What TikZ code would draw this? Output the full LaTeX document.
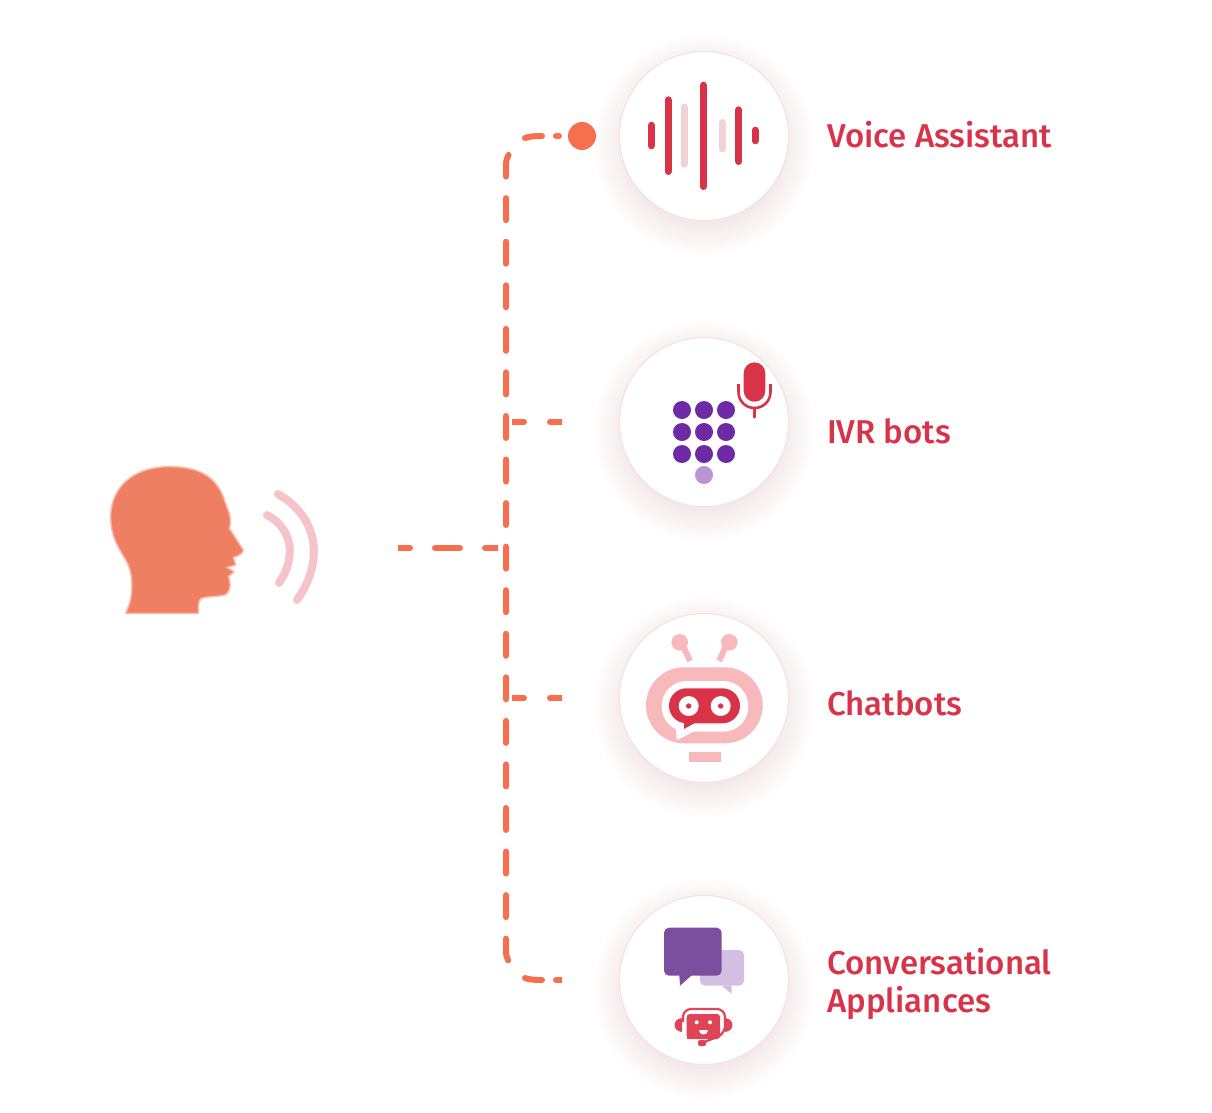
\documentclass[tikz,border=0pt]{standalone}
\usepackage{fontspec}
\setmainfont{Fira Sans Medium}
\usetikzlibrary{positioning}
\definecolor{dashorange}{HTML}{F6704F}
\definecolor{headfill}{HTML}{EF7F62}
\definecolor{headline}{HTML}{FBB9A8}
\definecolor{wavepink}{HTML}{F5C3C8}
\definecolor{labelred}{HTML}{D93349}
\definecolor{barpale}{HTML}{F2D2D5}
\definecolor{dialpurple}{HTML}{6E2AA5}
\definecolor{dialpale}{HTML}{B995D4}
\definecolor{botpink}{HTML}{F7B9BB}
\definecolor{bubbledark}{HTML}{7B4E9E}
\definecolor{bubblepale}{HTML}{D3BFE4}
\definecolor{botred}{HTML}{DE4559}
\definecolor{rimpink}{HTML}{F6DFE2}
\definecolor{halotint}{HTML}{8A3A4A}

\begin{document}
\begin{tikzpicture}[x=1pt,y=-1pt]

\tikzset{disc/.style = {shape=circle,draw=rimpink,line width=1pt,fill=white,minimum size=169pt,inner sep=0pt}}
\tikzset{title/.style = {text=labelred,font=\fontsize{33}{38}\selectfont,anchor=west,align=left,inner sep=0pt}}
\tikzset{link/.style = {dashorange,line width=6pt,line cap=round}}
\tikzset{bar/.style = {line width=7pt,line cap=round}}
\tikzset{wave/.style = {wavepink,line width=8pt,line cap=round}}
\tikzset{dialdot/.style = {shape=circle,fill=dialpurple,minimum size=18pt,inner sep=0pt}}

\useasboundingbox (0,0) rectangle (1212,1112);
\fill[white] (0,0) rectangle (1212,1112);

%halos
\foreach \y in {136,422,698,980}
  \foreach \r in {80,83,...,110}
    \fill[halotint,opacity=0.006] (704,\y+9) circle (\r);

%discs
\node[disc] (voice) at (704,136) {};
\node[disc] (ivr) at (704,422) {};
\node[disc] (chat) at (704,698) {};
\node[disc] (appliance) at (704,980) {};

%labels
\node[title] (voicetext) at (827,135) {Voice Assistant};
\node[title] (ivrtext) at (827,431) {IVR bots};
\node[title] (chattext) at (827,703) {Chatbots};
\node[title] (appliancetext) at (827,984) {Conversational\\Appliances};

%connectors
\node[shape=circle,fill=dashorange,minimum size=28pt,inner sep=0pt] (dot) at (582,136) {};
\coordinate (speaker) at (398,548);
\coordinate (speakerend) at (498,548);
\coordinate (cornertop) at (542,136);
\coordinate (cornertopend) at (525,138);
\coordinate (cornerbottom) at (542,980);
\coordinate (cornerbottomend) at (525,978);
\coordinate (trunktop) at (508.5,155);
\coordinate (trunkbottom) at (508.5,961);
\coordinate (ivrstart) at (512,422);
\coordinate (ivrend) at (562,422);
\coordinate (chatstart) at (512,698);
\coordinate (chatend) at (562,698);
\coordinate (stubtop) at (556,136);
\coordinate (stubtopend) at (559,136);
\coordinate (stubbottom) at (556,980);
\coordinate (stubbottomend) at (566,980);

\draw[link] (cornertop) .. controls (534,136) and (529,136.5) .. (cornertopend);
\draw[link] (cornerbottom) .. controls (534,980) and (529,979.5) .. (cornerbottomend);
\draw[link,dash pattern=on 22pt off 21.56pt] (trunktop) .. controls (506.8,158) and (506,161) .. (506,165) -- (506,951)
  .. controls (506,955) and (506.8,958) .. (trunkbottom);
\draw[link] (stubtop) -- (stubtopend);
\begin{scope}
\clip (398,530) rectangle (498,566) (512,400) rectangle (562,720) (545,970) rectangle (562,990);
\draw[link,dash pattern=on 25pt off 25pt,dash phase=13pt] (speaker) -- (speakerend);
\draw[link,dash pattern=on 25pt off 26pt,dash phase=13pt] (ivrstart) -- (ivrend);
\draw[link,dash pattern=on 25pt off 26pt,dash phase=13pt] (chatstart) -- (chatend);
\draw[link] (stubbottom) -- (stubbottomend);
\end{scope}

%head
\begin{scope}[shift={(90,450)},x=0.3333pt,y=-0.3333pt]
\filldraw[fill=headfill,draw=headline,line width=1.5pt,line join=round]
  (107,490) -- (118,462) .. controls (128,430) and (130,385) .. (115,345)
  .. controls (95,305) and (62,270) .. (62,200)
  .. controls (62,130) and (110,50) .. (240,50)
  .. controls (340,50) and (385,90) .. (405,155)
  .. controls (415,185) and (428,205) .. (418,235)
  -- (460,300) .. controls (458,312) and (445,318) .. (430,322)
  -- (437,345) -- (410,352) -- (432,365) -- (415,380)
  .. controls (425,400) and (422,435) .. (395,437)
  -- (345,442) .. controls (325,444) and (325,455) .. (325,490) -- cycle;
\end{scope}
\draw[wave] (278,494) .. controls (322,520) and (322,565) .. (297,600);
\draw[wave] (267,515) .. controls (295,530) and (295,560) .. (279,583);

%voice icon
\draw[bar,labelred] (651.3,125.2) -- (651.3,145.8);
\draw[bar,labelred] (668,99.8) -- (668,171.5);
\draw[bar,barpale] (684.3,106.8) -- (684.3,164.2);
\draw[bar,labelred] (703.3,85.2) -- (703.3,186.5);
\draw[bar,barpale] (722.3,122.5) -- (722.3,148.8);
\draw[bar,labelred] (738.7,109.8) -- (738.7,161.5);
\draw[bar,labelred] (755,130.2) -- (755,140.8);

%ivr icon
\foreach \y in {410,432,454}
  \foreach \x in {682,704,726}
    \node[dialdot] (key\x\y) at (\x,\y) {};
\node[dialdot,fill=dialpale] (keyzero) at (704,475) {};
\fill[labelred,rounded corners=10.8pt] (743.7,362.3) rectangle (765.3,401.7);
\draw[labelred,line width=2.6pt] (738.5,384) -- (738.5,392)
  .. controls (738.5,401) and (745.7,408) .. (754.5,408)
  .. controls (763.3,408) and (770.5,401) .. (770.5,392) -- (770.5,384);
\draw[labelred,line width=3pt,line cap=round] (754.5,408) -- (754.5,417);

%chatbot icon
\draw[botpink,line width=6pt] (684,648) -- (690,661);
\draw[botpink,line width=6pt] (725,648) -- (719,661);
\fill[botpink] (679.7,642.3) circle (8.3);
\fill[botpink] (729.3,642.3) circle (8.3);
\fill[botpink,rounded corners=38pt] (646,667.3) rectangle (762.7,743.3);
\fill[white,rounded corners=25pt] (661.7,681) rectangle (748.3,731.7);
\fill[white,line join=round,draw=white,line width=3pt] (677,722) -- (678,738) -- (695,729) -- cycle;
\fill[labelred,rounded corners=17.5pt] (669,688.3) rectangle (740,723.3);
\fill[labelred] (684,716) -- (684,729) -- (700,720) -- cycle;
\foreach \x in {688.7,720.7} {
  \fill[white] (\x,706) circle (10);
  \fill[labelred] (\x,706) circle (2.7);
}
\fill[botpink] (688.7,751.7) rectangle (720.7,761.7);

%appliance icon
\fill[bubblepale,rounded corners=5pt] (700,950) rectangle (744,985.7);
\fill[bubblepale] (721.7,985.7) -- (731.7,994) -- (731.7,985.7) -- cycle;
\fill[bubbledark,rounded corners=5pt] (664,927.7) rectangle (721.7,975.7);
\fill[bubbledark] (679.3,975) -- (680,985.7) -- (692,975) -- cycle;
\fill[botred] (682,1018) .. controls (672,1019) and (672,1031) .. (682,1032) -- cycle;
\fill[botred] (725,1018) .. controls (735,1019) and (735,1031) .. (725,1032) -- cycle;
\draw[botred,line width=2.2pt,rounded corners=8pt] (683,1022) -- (683,1009) -- (725,1009) -- (725,1034) -- (703,1042.5);
\fill[botred,rounded corners=3pt] (686.7,1014) rectangle (720,1039);
\fill[botred] (686.7,1030) rectangle (692,1039);
\fill[white] (696.7,1022.3) circle (2);
\fill[white] (710,1022.3) circle (2);
\fill[white] (698.5,1029.5) -- (707.5,1029.5) .. controls (707.5,1036) and (698.5,1036) .. (698.5,1029.5) -- cycle;
\fill[botred,rounded corners=2pt] (698,1040) rectangle (706,1046);

\end{tikzpicture}
\end{document}
